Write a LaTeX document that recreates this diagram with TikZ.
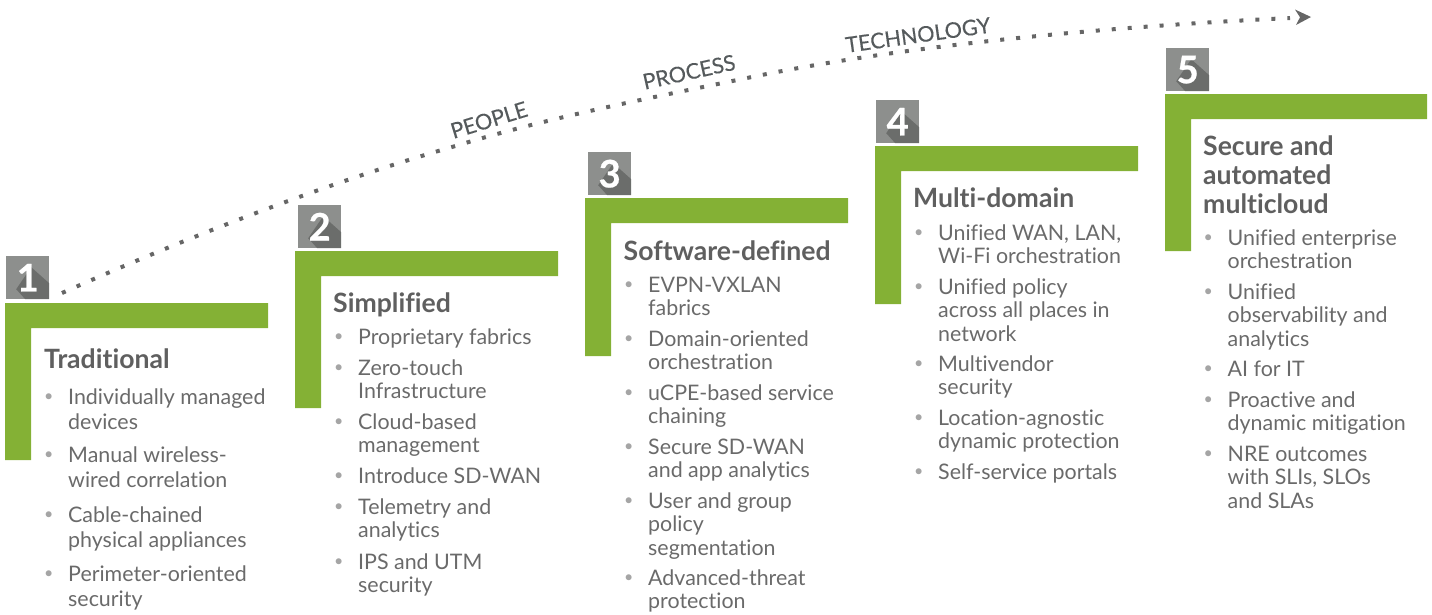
\documentclass[tikz,border=0pt]{standalone}
\usepackage{fontspec}
\setmainfont[Ligatures=NoCommon]{Lato}
\usetikzlibrary{arrows.meta}
\definecolor{lgreen}{HTML}{84B135}
\definecolor{bodygrey}{HTML}{6A6A6A}
\definecolor{headgrey}{HTML}{5F5F5F}
\definecolor{bulgrey}{HTML}{A5A5A5}
\definecolor{boxgrey}{HTML}{8D8F8D}
\definecolor{shadegrey}{HTML}{6B6D6B}
\definecolor{linegrey}{HTML}{666666}
\definecolor{labelgrey}{HTML}{555A5C}
\tikzset{
  greenl/.style={fill=lgreen},
  numbox/.style={anchor=north west,inner sep=0pt,minimum size=43pt,fill=boxgrey,text=white,
    font=\fontsize{38}{38}\selectfont\bfseries\addfontfeature{FakeBold=0.6},
    path picture={\fill[shadegrey] ([shift={(25,11)}]path picture bounding box.north west)
      -- ([shift={(43,27)}]path picture bounding box.north west)
      -- ([shift={(43,43)}]path picture bounding box.north west)
      -- ([shift={(19,43)}]path picture bounding box.north west)
      -- ([shift={(10,33)}]path picture bounding box.north west) -- cycle;}},
  headtext/.style={anchor=base west,inner sep=0pt,text=headgrey,font=\fontsize{26.6}{29}\selectfont\bfseries},
  bodytext/.style={anchor=north west,inner sep=0pt,align=left,text=bodygrey,font=\fontsize{21.4}{23.4}\selectfont},
  bodyone/.style={bodytext,font=\fontsize{21.4}{25.5}\selectfont},
  bul/.style={anchor=base west,inner sep=0pt,text=bulgrey,font=\fontsize{16}{18}\selectfont},
  ribbon/.style={rotate=#1,text=labelgrey,inner sep=0pt,font=\fontsize{21.6}{24}\selectfont\addfontfeature{FakeBold=0.3}},
  dotline/.style={draw=linegrey,line width=4pt,dash pattern=on 4pt off 12pt},
}
\newcommand{\greenL}[4]{\fill[greenl] (#1,#2) -- ++(#3,0) -- ++(0,25) -- ++(-#3+26,0) -- ++(0,#4) -- ++(-26,0) -- cycle;}
\newcommand{\bitem}[5][bodytext]{%
  \node[bul] (#2b) at (#3-24,#4-3) {•};
  \node[#1] (#2) at (#3,#4-18) {\rule{0pt}{18pt}#5};}
\begin{document}
\begin{tikzpicture}[x=1pt,y=-1pt]
\useasboundingbox (0,0) rectangle (1432,614);
% dotted curve
\coordinate (ds) at (62,293);
\coordinate (dm) at (452,147);
\coordinate (dn) at (747,78);
\coordinate (de) at (1311,17);
\coordinate (dt) at (1290,18);
\draw[dotline] (ds) .. controls (190,236) and (330,182) .. (dm)
  .. controls (550,117) and (650,98) .. (dn)
  .. controls (900,46) and (1100,27) .. (dt);
\fill[linegrey] (de) -- (1295,9.5) -- (1300,17.3) -- (1296,25) -- cycle;
\node[ribbon=17] (lpeople) at (489,120) {PEOPLE};
\node[ribbon=12.5] (lprocess) at (689,72) {PROCESS};
\node[ribbon=8] (ltech) at (918,35) {TECHNOLOGY};
% stage 1
\greenL{5}{303}{263}{132}
\node[numbox] (n1) at (6,256) {1};
\node[headtext] (h1) at (44,368) {Traditional};
\bitem[bodyone]{a1}{68}{404}{Individually managed\\devices}
\bitem[bodyone]{a2}{68}{462}{Manual wireless-\\wired correlation}
\bitem[bodyone]{a3}{68}{522}{Cable-chained\\physical appliances}
\bitem[bodyone]{a4}{68}{581}{Perimeter-oriented\\security}
% stage 2
\greenL{295}{251}{263}{132}
\node[numbox] (n2) at (298,205) {2};
\node[headtext] (h2) at (333,312) {Simplified};
\bitem{b1}{358}{344}{Proprietary fabrics}
\bitem{b2}{358}{375}{Zero-touch\\Infrastructure}
\bitem{b3}{358}{429}{Cloud-based\\management}
\bitem{b4}{358}{483}{Introduce SD-WAN}
\bitem{b5}{358}{514}{Telemetry and\\analytics}
\bitem{b6}{358}{569}{IPS and UTM\\security}
% stage 3
\greenL{585}{198}{263}{133}
\node[numbox] (n3) at (588,152) {3};
\node[headtext] (h3) at (623.5,260) {Software-defined};
\bitem{c1}{648}{292}{EVPN-VXLAN\\fabrics}
\bitem{c2}{648}{346}{Domain-oriented\\orchestration}
\bitem{c3}{648}{400}{uCPE-based service\\chaining}
\bitem{c4}{648}{454}{Secure SD-WAN\\and app analytics}
\bitem{c5}{648}{508}{User and group\\policy\\segmentation}
\bitem{c6}{648}{585}{Advanced-threat\\protection}
% stage 4
\greenL{875}{146}{263}{133}
\node[numbox] (n4) at (876,100) {4};
\node[headtext] (h4) at (913,207) {Multi-domain};
\bitem{d1}{938}{240}{Unified WAN, LAN,\\Wi-Fi orchestration}
\bitem{d2}{938}{294}{Unified policy\\across all places in\\network}
\bitem{d3}{938}{371}{Multivendor\\security}
\bitem{d4}{938}{425}{Location-agnostic\\dynamic protection}
\bitem{d5}{938}{479}{Self-service portals}
% stage 5
\greenL{1165}{94}{262}{132}
\node[numbox] (n5) at (1166,48) {5};
\node[headtext] (h5a) at (1203,155) {Secure and};
\node[headtext] (h5b) at (1203,184) {automated};
\node[headtext] (h5c) at (1203,213) {multicloud};
\bitem{e1}{1227.5}{245}{Unified enterprise\\orchestration}
\bitem{e2}{1227.5}{299}{Unified\\observability and\\analytics}
\bitem{e3}{1227.5}{376}{AI for IT}
\bitem{e4}{1227.5}{407}{Proactive and\\dynamic mitigation}
\bitem{e5}{1227.5}{461}{NRE outcomes\\with SLIs, SLOs\\and SLAs}
\end{tikzpicture}
\end{document}
